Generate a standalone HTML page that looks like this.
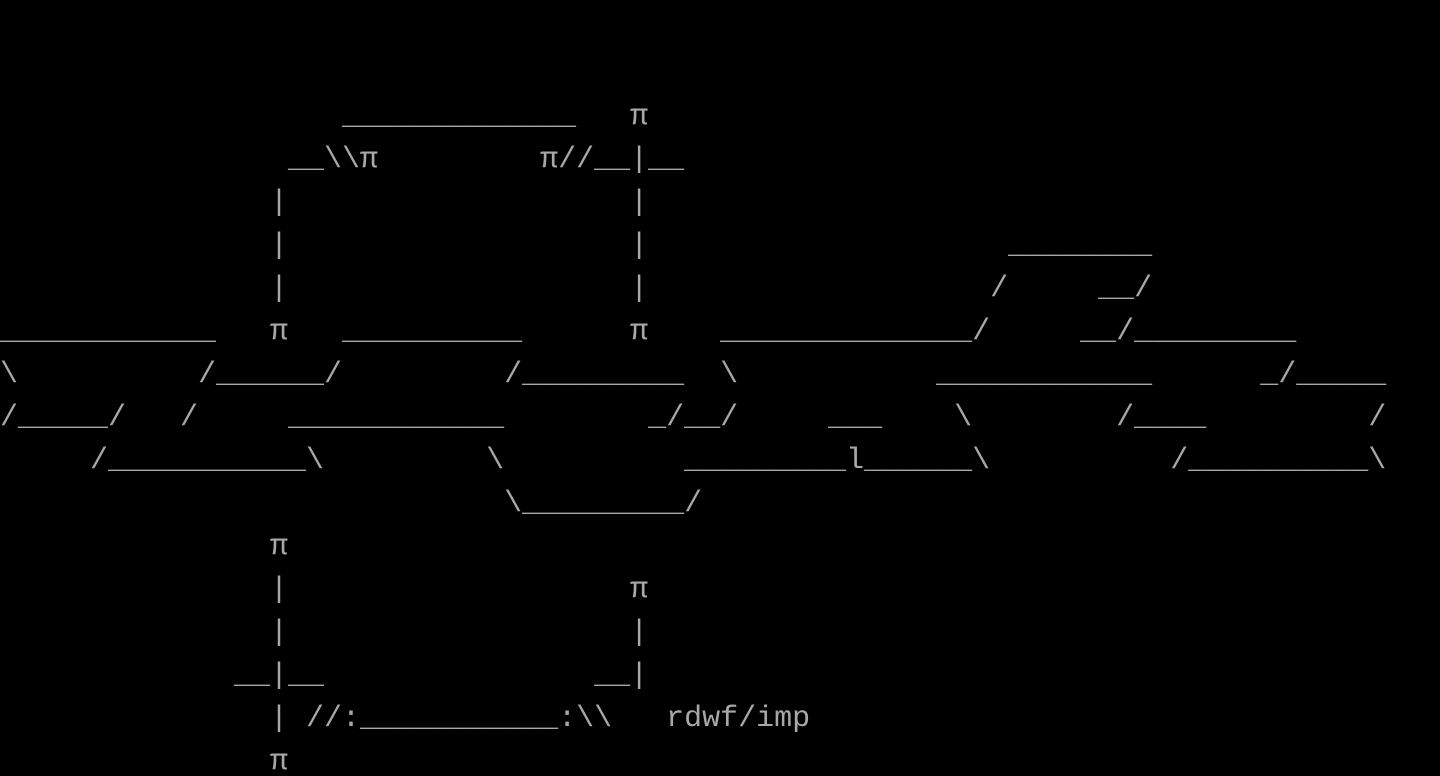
<!DOCTYPE html>
<html>
<head>
<meta charset="utf-8">
<style>
html,body{margin:0;padding:0;background:#000;width:1440px;height:776px;overflow:hidden;}
pre{margin:0;padding:96px 0 0 0;font-family:"Liberation Mono","DejaVu Sans Mono",monospace;font-size:30px;line-height:43px;color:#a8a8a8;white-space:pre;}
</style>
</head>
<body>
<pre>                   _____________   π
                __\\π         π//__|__
               |                   |
               |                   |                    ________
               |                   |                   /     __/
____________   π   __________      π    ______________/     __/_________
\          /______/         /_________  \           ____________      _/_____
/_____/   /     ____________        _/__/     ___    \        /____         /
     /___________\         \          _________l______\          /__________\
                            \_________/
               π
               |                   π
               |                   |
             __|__               __|
               | //:___________:\\   rdwf/imp
               π</pre>
</body>
</html>
